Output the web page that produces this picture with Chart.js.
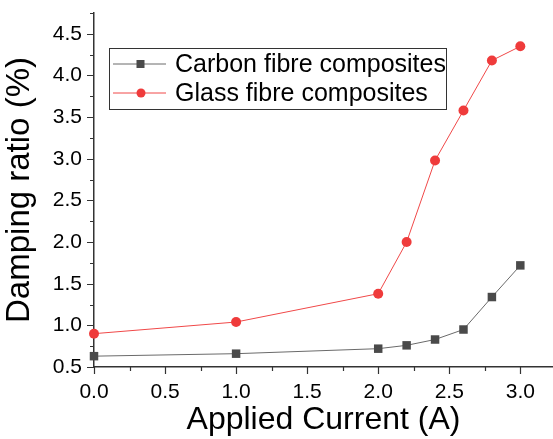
<!DOCTYPE html>
<html>
<head>
<meta charset="utf-8">
<script src="https://cdn.jsdelivr.net/npm/chart.js@4.4.0/dist/chart.umd.min.js"></script>
<style>
  html, body { margin: 0; padding: 0; background: #fff; }
  #wrap { width: 553px; height: 439px; }
</style>
</head>
<body>
<div id="wrap"><canvas id="myChart"></canvas></div>
<script>
const current = [0.0, 1.0, 2.0, 2.2, 2.4, 2.6, 2.8, 3.0];
const carbon = [0.63, 0.66, 0.72, 0.76, 0.83, 0.95, 1.34, 1.72];
const glass = [0.90, 1.04, 1.38, 2.00, 2.98, 3.58, 4.18, 4.35];
const xTicks = [0.0, 0.5, 1.0, 1.5, 2.0, 2.5, 3.0];
const yTicks = [0.5, 1.0, 1.5, 2.0, 2.5, 3.0, 3.5, 4.0, 4.5];

const font = 'Liberation Sans, Arial, sans-serif';
const axisColor = '#333';

// Origin style ticks: outward, major every 0.5, minor halfway
const tickMarks = {
    id: 'tickMarks',
    afterDatasetsDraw(chart) {
        const c = chart.ctx;
        const xs = chart.scales.x, ys = chart.scales.y;
        const area = chart.chartArea;
        c.save();
        c.strokeStyle = axisColor;
        c.lineWidth = 1.2;
        c.beginPath();
        for (let v = 0; v <= xs.max + 1e-9; v += 0.25) {
            const px = Math.round(xs.getPixelForValue(v)) + 0.5;
            const major = Math.abs(v * 2 - Math.round(v * 2)) < 1e-6;
            c.moveTo(px, area.bottom);
            c.lineTo(px, area.bottom + (major ? 7 : 4));
        }
        for (let v = ys.min; v <= ys.max + 1e-9; v += 0.25) {
            const py = Math.round(ys.getPixelForValue(v)) + 0.5;
            const major = Math.abs(v * 2 - Math.round(v * 2)) < 1e-6;
            c.moveTo(area.left, py);
            c.lineTo(area.left - (major ? 7 : 4), py);
        }
        c.stroke();
        c.restore();
    }
};

// legend box in the upper left of the plot
const boxLegend = {
    id: 'boxLegend',
    afterDraw(chart) {
        const c = chart.ctx;
        const left = 109, top = 48, w = 337, h = 61;
        c.save();
        c.fillStyle = '#fff';
        c.fillRect(left, top, w, h);
        c.strokeStyle = '#333';
        c.lineWidth = 1;
        c.strokeRect(left + 0.5, top + 0.5, w, h);
        c.font = '25px ' + font;
        c.textBaseline = 'middle';
        chart.data.datasets.forEach((ds, i) => {
            const y = top + 16 + i * 29;
            c.strokeStyle = ds.borderColor;
            c.lineWidth = 1;
            c.beginPath();
            c.moveTo(113, y);
            c.lineTo(166, y);
            c.stroke();
            c.fillStyle = ds.pointBackgroundColor;
            if (ds.pointStyle === 'rect') {
                c.fillRect(136.5, y - 4, 8, 8);
            } else {
                c.beginPath();
                c.arc(141, y, 4.5, 0, Math.PI * 2);
                c.fill();
            }
            c.fillStyle = '#000';
            c.fillText(ds.label, 175, y + 1);
        });
        c.restore();
    }
};

const datas = {
    datasets: [
        {
            label: 'Carbon fibre composites',
            data: current.map((x, i) => ({ x, y: carbon[i] })),
            borderColor: '#6a6a6a',
            borderWidth: 1,
            pointStyle: 'rect',
            pointRadius: 6,
            pointBackgroundColor: '#4a4a4a',
            pointBorderWidth: 0,
            tension: 0,
        },
        {
            label: 'Glass fibre composites',
            data: current.map((x, i) => ({ x, y: glass[i] })),
            borderColor: '#f04848',
            borderWidth: 1,
            pointStyle: 'circle',
            pointRadius: 5,
            pointBackgroundColor: '#ef3b3b',
            pointBorderWidth: 0,
            tension: 0,
        }
    ]
};

const config = {
    type: 'line',
    data: datas,
    plugins: [tickMarks, boxLegend],
    options: {
        responsive: true,
        maintainAspectRatio: false,
        animation: false,
        layout: { autoPadding: false, padding: { top: 13, right: 0, left: 0, bottom: 0 } },
        clip: false,
        scales: {
            x: {
                type: 'linear',
                min: 0,
                max: 3.23,
                afterBuildTicks: s => { s.ticks = xTicks.map(v => ({ value: v })); },
                afterFit: s => { s.height = 72; s.paddingLeft = 0; s.paddingRight = 0; },
                grid: { display: false, drawTicks: false },
                border: { display: true, color: axisColor, width: 1.5 },
                ticks: {
                    padding: 13,
                    color: '#000',
                    font: { family: font, size: 21 },
                    maxRotation: 0,
                    callback: v => v.toFixed(1)
                },
                title: {
                    display: true,
                    text: 'Applied Current (A)',
                    color: '#000',
                    font: { family: font, size: 32 },
                    padding: { top: 3, bottom: 0 }
                }
            },
            y: {
                min: 0.5,
                max: 4.75,
                afterBuildTicks: s => { s.ticks = yTicks.map(v => ({ value: v })); },
                afterFit: s => { s.width = 94; s.paddingTop = 0; s.paddingBottom = 0; },
                grid: { display: false, drawTicks: false },
                border: { display: true, color: axisColor, width: 1.5 },
                ticks: {
                    padding: 12,
                    color: '#000',
                    font: { family: font, size: 21 },
                    callback: v => v.toFixed(1)
                },
                title: {
                    display: true,
                    text: 'Damping ratio (%)',
                    color: '#000',
                    font: { family: font, size: 33 },
                    padding: { top: 0, bottom: 0 }
                }
            }
        },
        plugins: {
            legend: { display: false },
            tooltip: { enabled: false }
        }
    }
};

const myChart = new Chart(document.getElementById('myChart'), config);
</script>
</body>
</html>
